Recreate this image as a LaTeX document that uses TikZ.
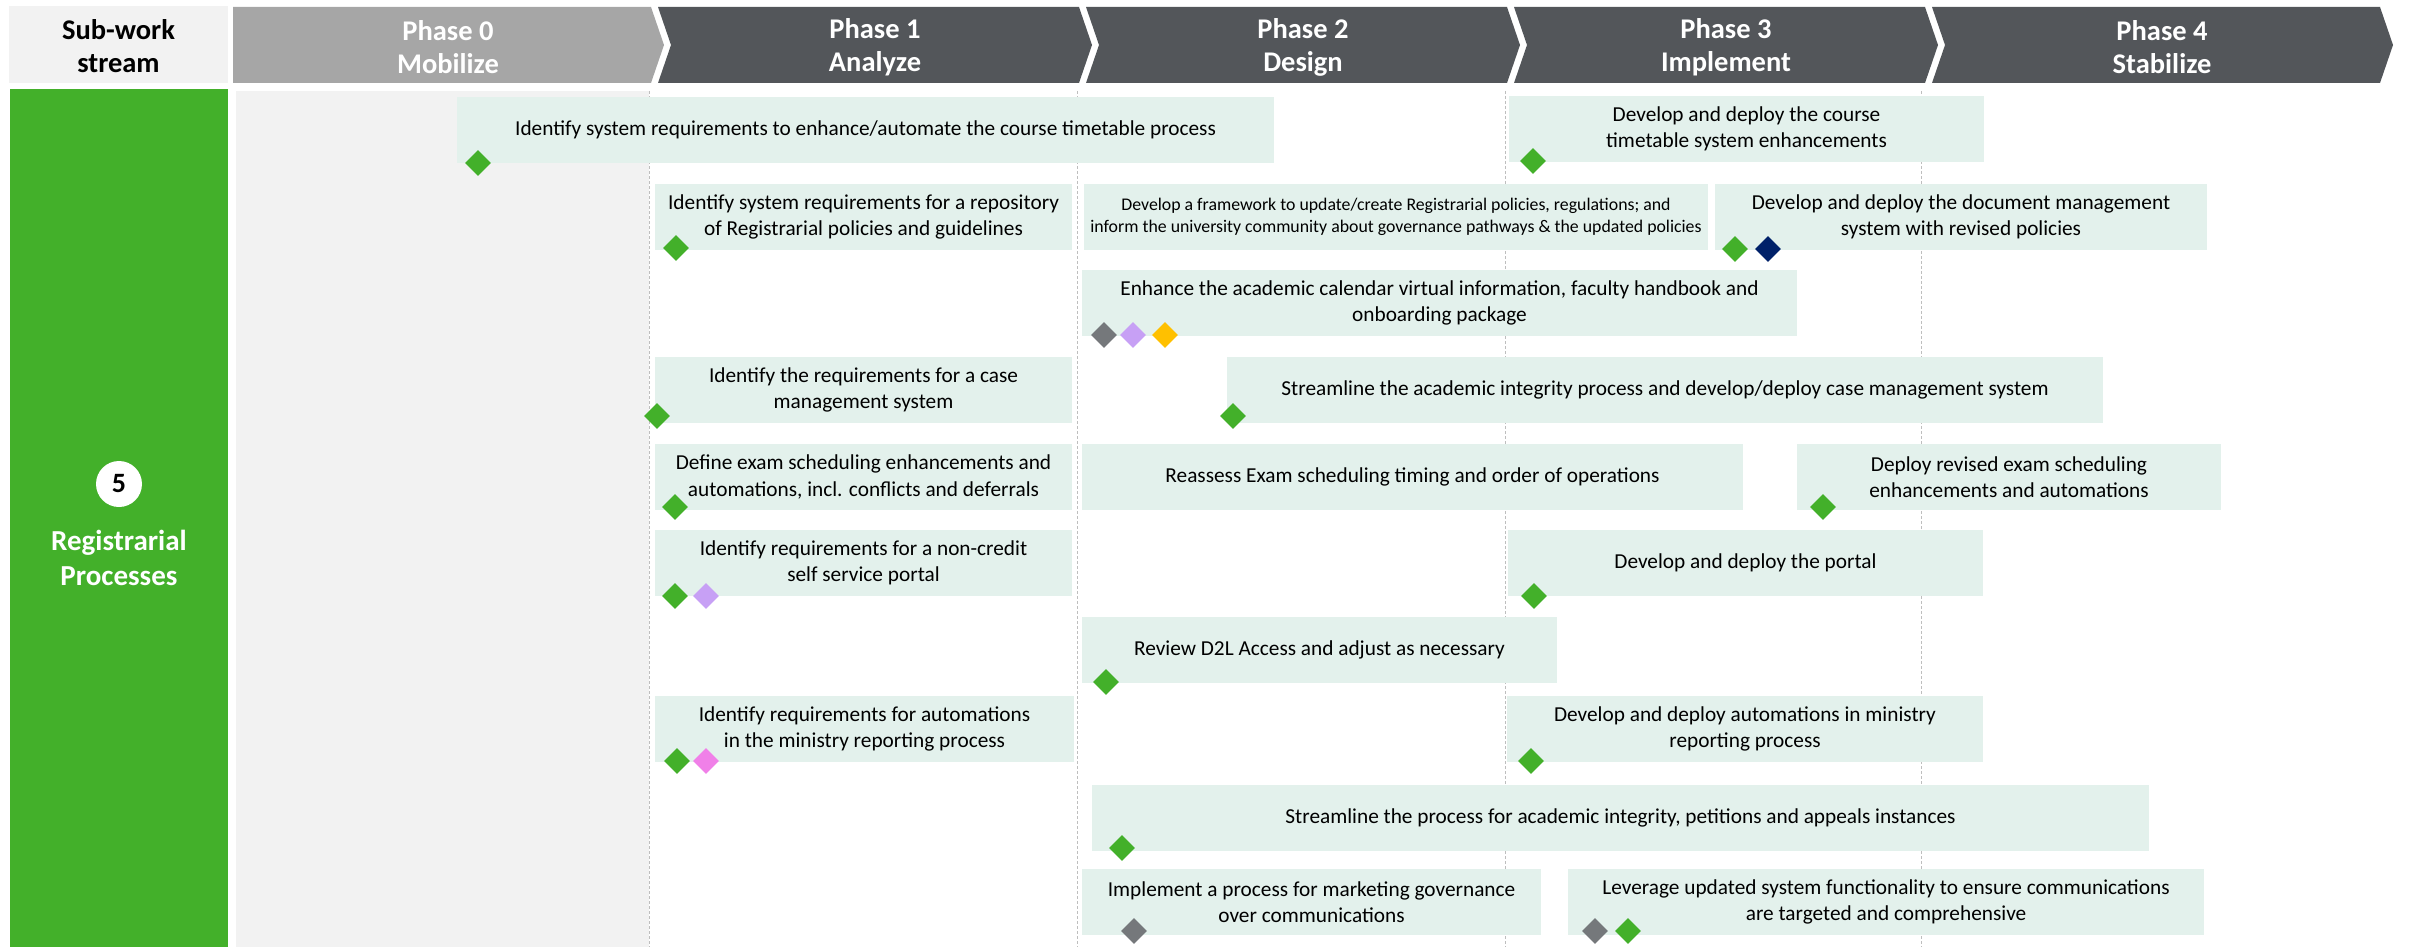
\documentclass[tikz,border=0pt]{standalone}
\usepackage{fontspec}
\setmainfont{Carlito}
\usetikzlibrary{shapes.geometric}
\definecolor{hdrdark}{RGB}{83,86,90}
\definecolor{hdrlight}{RGB}{166,166,166}
\definecolor{subgrey}{RGB}{242,242,242}
\definecolor{barGreen}{RGB}{67,176,42}
\definecolor{taskfill}{RGB}{227,241,236}
\definecolor{dNavy}{RGB}{0,33,105}
\definecolor{dGrey}{RGB}{117,120,123}
\definecolor{dPurple}{RGB}{199,160,245}
\definecolor{dOrange}{RGB}{255,192,0}
\definecolor{dPink}{RGB}{240,128,232}
\definecolor{sepline}{RGB}{190,190,190}
\tikzset{
  hdrtext/.style={text=white, font=\bfseries\fontsize{28.5}{33}\selectfont, align=center, inner sep=0},
  task/.style={fill=taskfill, align=center, inner sep=0, text=black, font=\fontsize{21.3}{26.5}\selectfont},
  tasksmall/.style={task, font=\fontsize{17.8}{21.7}\selectfont},
  ms/.style={diamond, minimum width=26pt, minimum height=26pt, inner sep=0, aspect=1},
  msgreen/.style={ms, fill=barGreen},
  msnavy/.style={ms, fill=dNavy},
  msgrey/.style={ms, fill=dGrey},
  mspurple/.style={ms, fill=dPurple},
  msorange/.style={ms, fill=dOrange},
  mspink/.style={ms, fill=dPink},
  phasesep/.style={draw=sepline, line width=1pt, dash pattern=on 3pt off 2pt},
}
\begin{document}
\begin{tikzpicture}[x=1pt,y=-1pt]
\useasboundingbox (0,0) rectangle (2410,947);
% header
\node[fill=subgrey, minimum width=219pt, minimum height=77pt, inner sep=0] (sub) at (118.5,44.5) {};
\node[align=center, inner sep=0, font=\bfseries\fontsize{28.5}{33}\selectfont] (subt) at (118.5,46.5) {Sub-work\\stream};
\fill[hdrlight] (233,7) -- (651,7) -- (664,45) -- (651,83) -- (233,83) -- cycle;
\fill[hdrdark] (658,7) -- (1079,7) -- (1092,45) -- (1079,83) -- (658,83) -- (671,45) -- cycle;
\fill[hdrdark] (1086,7) -- (1507,7) -- (1520,45) -- (1507,83) -- (1086,83) -- (1099,45) -- cycle;
\fill[hdrdark] (1514,7) -- (1925,7) -- (1938,45) -- (1925,83) -- (1514,83) -- (1527,45) -- cycle;
\fill[hdrdark] (1932,7) -- (2380,7) -- (2393,45) -- (2380,83) -- (1932,83) -- (1945,45) -- cycle;
\node[hdrtext] (p0) at (448,47) {Phase 0\\Mobilize};
\node[hdrtext] (p1) at (875,47) {Phase 1\\Analyze};
\node[hdrtext] (p2) at (1303,47) {Phase 2\\Design};
\node[hdrtext] (p3) at (1726,47) {Phase 3\\Implement};
\node[hdrtext] (p4) at (2162,47) {Phase 4\\Stabilize};
% left bar
\fill[barGreen] (10,89) rectangle (228,947);
\node[circle, fill=white, minimum size=46pt, inner sep=0, font=\bfseries\fontsize{28}{33}\selectfont] (num) at (119,484) {5};
\node[text=white, align=center, inner sep=0, font=\bfseries\fontsize{29}{35}\selectfont] (ws) at (119,558) {Registrarial\\Processes};
% phase 0 column
\fill[subgrey] (236,91) rectangle (649,947);
% separators
\draw[phasesep] (649.5,91) -- (649.5,947);
\draw[phasesep] (1077,91) -- (1077,947);
\draw[phasesep] (1505,91) -- (1505,947);
\draw[phasesep] (1921.5,91) -- (1921.5,947);
% tasks
\node[task, minimum width=817pt, minimum height=66pt] (t1) at (865.5,130) {Identify system requirements to enhance/automate the course timetable process};
\node[task, minimum width=475pt, minimum height=66pt] (t2) at (1746.5,129) {Develop and deploy the course\\timetable system enhancements};
\node[task, minimum width=417pt, minimum height=66pt] (t3) at (863.5,217) {Identify system requirements for a repository\\of Registrarial policies and guidelines};
\node[tasksmall, minimum width=624pt, minimum height=66pt] (t4) at (1396,217) {Develop a framework to update/create Registrarial policies, regulations; and\\inform the university community about governance pathways \& the updated policies};
\node[task, minimum width=492pt, minimum height=66pt] (t5) at (1961,217) {Develop and deploy the document management\\system with revised policies};
\node[task, minimum width=715pt, minimum height=66pt] (t6) at (1439.5,303) {Enhance the academic calendar virtual information, faculty handbook and\\onboarding package};
\node[task, minimum width=417pt, minimum height=66pt] (t7) at (863.5,390) {Identify the requirements for a case\\management system};
\node[task, minimum width=876pt, minimum height=66pt] (t8) at (1665,390) {Streamline the academic integrity process and develop/deploy case management system};
\node[task, minimum width=417pt, minimum height=66pt] (t9) at (863.5,477) {Define exam scheduling enhancements and\\automations, incl. conflicts and deferrals};
\node[task, minimum width=661pt, minimum height=66pt] (t10) at (1412.5,477) {Reassess Exam scheduling timing and order of operations};
\node[task, minimum width=424pt, minimum height=66pt] (t11) at (2009,477) {Deploy revised exam scheduling\\enhancements and automations};
\node[task, minimum width=417pt, minimum height=66pt] (t12) at (863.5,563) {Identify requirements for a non-credit\\self service portal};
\node[task, minimum width=475pt, minimum height=66pt] (t13) at (1745.5,563) {Develop and deploy the portal};
\node[task, minimum width=475pt, minimum height=66pt] (t14) at (1319.5,650) {Review D2L Access and adjust as necessary};
\node[task, minimum width=419pt, minimum height=66pt] (t15) at (864.5,729) {Identify requirements for automations\\in the ministry reporting process};
\node[task, minimum width=476pt, minimum height=66pt] (t16) at (1745,729) {Develop and deploy automations in ministry\\reporting process};
\node[task, minimum width=1057pt, minimum height=66pt] (t17) at (1620.5,818) {Streamline the process for academic integrity, petitions and appeals instances};
\node[task, minimum width=459pt, minimum height=66pt] (t18) at (1311.5,902) {Implement a process for marketing governance\\over communications};
\node[task, minimum width=636pt, minimum height=66pt] (t19) at (1886,902) {Leverage updated system functionality to ensure communications\\are targeted and comprehensive};
% milestones
\node[msgreen] (m1) at (478,163) {};
\node[msgreen] (m2) at (1533,161) {};
\node[msgreen] (m3) at (676,248) {};
\node[msgreen] (m4) at (1735,249) {};
\node[msnavy] (m5) at (1768,249) {};
\node[msgrey] (m6) at (1104,335) {};
\node[mspurple] (m7) at (1133,335) {};
\node[msorange] (m8) at (1165,335) {};
\node[msgreen] (m9) at (657,416) {};
\node[msgreen] (m10) at (1233,416) {};
\node[msgreen] (m11) at (675,507) {};
\node[msgreen] (m12) at (1823,507) {};
\node[msgreen] (m13) at (675,596) {};
\node[mspurple] (m14) at (706,596) {};
\node[msgreen] (m15) at (1534,596) {};
\node[msgreen] (m16) at (1106,682) {};
\node[msgreen] (m17) at (677,761) {};
\node[mspink] (m18) at (706,761) {};
\node[msgreen] (m19) at (1531,761) {};
\node[msgreen] (m20) at (1122,848) {};
\node[msgrey] (m21) at (1134,931) {};
\node[msgrey] (m22) at (1595,931) {};
\node[msgreen] (m23) at (1628,931) {};
\end{tikzpicture}
\end{document}
